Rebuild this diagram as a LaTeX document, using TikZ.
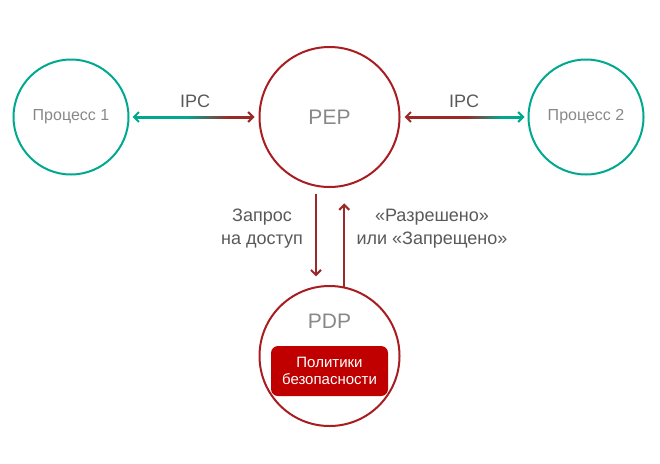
\documentclass[tikz,border=0pt]{standalone}
\usepackage{fontspec}
\setmainfont{Liberation Sans}
\usetikzlibrary{arrows.meta, calc}
\definecolor{procteal}{HTML}{00A88F}
\definecolor{peprot}{HTML}{A81D21}
\definecolor{pfeilrot}{HTML}{9A2A2A}
\definecolor{polrot}{HTML}{C00000}
\definecolor{nodegrau}{HTML}{888888}
\definecolor{textgrau}{HTML}{595959}
\pgfdeclarehorizontalshading{ipclinks}{100bp}{color(0bp)=(procteal); color(47bp)=(procteal); color(65bp)=(pfeilrot); color(100bp)=(pfeilrot)}
\pgfdeclarehorizontalshading{ipcrechts}{100bp}{color(0bp)=(pfeilrot); color(51bp)=(pfeilrot); color(66bp)=(procteal); color(100bp)=(procteal)}

\begin{document}
\begin{tikzpicture}[x=1pt, y=-1pt,
		proc/.style={circle, draw=procteal, line width=2pt, minimum size=115pt, inner sep=0pt, text=nodegrau, font=\fontsize{16}{19}\selectfont},
		pkt/.style={circle, draw=peprot, line width=2pt, minimum size=140pt, inner sep=0pt, text=nodegrau, font=\fontsize{21}{25}\selectfont},
		lbl/.style={text=textgrau, align=center, font=\fontsize{18}{23}\selectfont},
		ipctip/.tip={Straight Barb[length=5pt, width=10pt]}]
		\useasboundingbox (0,0) rectangle (660,463);
		\node[proc] (p1) at (71,117) {Процесс 1};
		\node[pkt] (pep) at (329.5,117) {PEP};
		\node[proc] (p2) at (586,117) {Процесс 2};
		\node[pkt] (pdp) at (329.5,356) {};
		\node[pkt, draw=none] (pdplbl) at ($(pdp)+(0,-34.5)$) {PDP};
		\node[fill=polrot, rounded corners=7pt, minimum width=117pt, minimum height=50pt, inner sep=0pt, text=white, align=center, font=\fontsize{15}{17.5}\selectfont] (pol) at (329.5,371) {Политики\\безопасности};
		% IPC links und rechts
		\draw[line width=2pt, pfeilrot, {ipctip[color=procteal]}-{ipctip[color=pfeilrot]}, shorten <=3pt, shorten >=4pt] (p1.east) -- (pep.west);
		\shade[shading=ipclinks] ($(p1.east)+(6,-1)$) rectangle ($(pep.west)+(-7,1)$);
		\draw[line width=2pt, pfeilrot, {ipctip[color=pfeilrot]}-{ipctip[color=procteal]}, shorten <=4pt, shorten >=3pt] (pep.east) -- (p2.west);
		\shade[shading=ipcrechts] ($(pep.east)+(7,-1)$) rectangle ($(p2.west)+(-6,1)$);
		\node[lbl] (ipc1) at (195,101.5) {IPC};
		\node[lbl] (ipc2) at (464,101.5) {IPC};
		% Anfrage und Antwort
		\draw[line width=2pt, pfeilrot, -ipctip, shorten <=7pt, shorten >=10pt] (pep.-101) -- (pdp.101);
		\draw[line width=2pt, pfeilrot, -ipctip, shorten >=17pt] (pdp.78) -- (pep.-78);
		\node[lbl] (req) at (262,229) {Запрос\\на доступ};
		\node[lbl] (resp) at (432,229) {«Разрешено»\\или «Запрещено»};
	\end{tikzpicture}
\end{document}
